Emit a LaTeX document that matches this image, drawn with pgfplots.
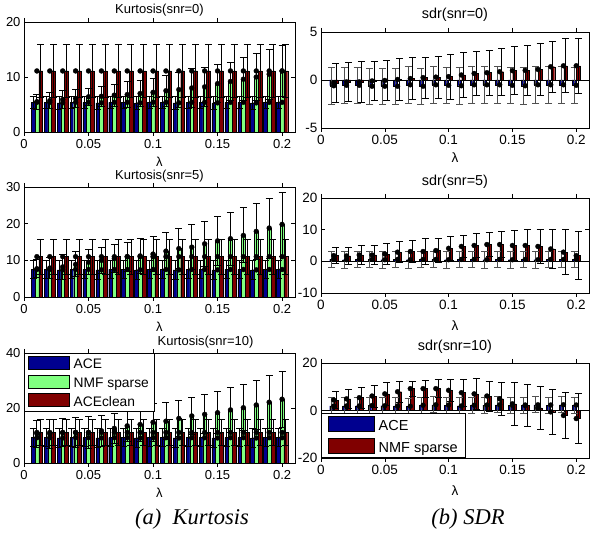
\documentclass[border=0pt]{standalone}
\usepackage{pgfplots}
\pgfplotsset{compat=1.18}
\usepackage{pgfplotstable}
\usepackage{fontspec}
\setmainfont{Liberation Sans}
\newfontfamily\capfont{Liberation Serif}
\definecolor{aceblue}{RGB}{0,0,143}
\definecolor{nmfgreen}{RGB}{128,255,128}
\definecolor{clnred}{RGB}{128,0,0}
\definecolor{errgray}{RGB}{80,80,80}

% Kurtosis tables: x, ACE (value, err), NMF sparse (value, err), ACEclean (value, err)
\pgfplotstableread{
x ace acee nmf nmfe cln clne
0.01 5.4 1.15 5.5 1.4 11.1 4.8
0.02 5.4 1.15 5.7 1.5 11.1 4.8
0.03 5.3 1.15 5.9 1.7 11.1 4.8
0.04 5.4 1.15 6.1 1.6 11.1 4.8
0.05 5.4 1.15 6.4 1.6 11.1 4.8
0.06 5.3 1.15 6.5 1.8 11.1 4.8
0.07 5.4 1.15 6.7 2.0 11.1 4.8
0.08 5.4 1.15 6.8 2.4 11.1 4.8
0.09 5.3 1.15 7.0 2.4 11.1 4.8
0.10 5.4 1.15 7.2 2.5 11.1 4.8
0.11 5.4 1.15 7.5 2.8 11.1 4.8
0.12 5.3 1.15 7.7 3.2 11.1 4.8
0.13 5.4 1.15 8.0 3.5 11.1 4.8
0.14 5.4 1.15 8.2 3.6 11.1 4.8
0.15 5.3 1.15 8.8 3.4 11.1 4.8
0.16 5.4 1.15 9.2 3.5 11.1 4.8
0.17 5.4 1.15 9.6 3.9 11.1 4.8
0.18 5.3 1.15 10.0 4.2 11.1 4.8
0.19 5.4 1.15 10.5 4.5 11.1 4.8
0.20 5.4 1.15 11.1 4.7 11.1 4.8
}\kzero

\pgfplotstableread{
x ace acee nmf nmfe cln clne
0.01 7.5 2.5 7.7 2.5 11.0 4.8
0.02 7.5 2.5 7.9 2.8 11.0 4.8
0.03 7.4 2.5 8.2 3.4 11.0 4.8
0.04 7.5 2.5 8.9 3.4 11.0 4.8
0.05 7.5 2.5 9.5 3.4 11.0 4.8
0.06 7.4 2.5 10.0 3.6 11.0 4.8
0.07 7.5 2.5 10.5 3.9 11.0 4.8
0.08 7.5 2.5 11.0 4.0 11.0 4.8
0.09 7.4 2.5 11.2 4.7 11.0 4.8
0.10 7.5 2.5 11.7 4.8 11.0 4.8
0.11 7.5 2.5 12.5 5.2 11.0 4.8
0.12 7.4 2.5 13.2 5.4 11.0 4.8
0.13 7.5 2.5 13.6 6.1 11.0 4.8
0.14 7.5 2.5 14.5 6.2 11.0 4.8
0.15 7.4 2.5 15.3 6.7 11.0 4.8
0.16 7.5 2.5 15.9 7.3 11.0 4.8
0.17 7.5 2.5 16.8 7.5 11.0 4.8
0.18 7.4 2.5 17.9 7.6 11.0 4.8
0.19 7.5 2.5 18.8 8.2 11.0 4.8
0.20 7.5 2.5 19.8 8.7 11.0 4.8
}\kfive

\pgfplotstableread{
x ace acee nmf nmfe cln clne
0.01 9.2 3.3 10.7 4.9 11.1 4.8
0.02 9.2 3.3 10.6 5.2 11.1 4.8
0.03 9.1 3.3 11.0 5.1 11.1 4.8
0.04 9.2 3.3 11.1 5.3 11.1 4.8
0.05 9.2 3.3 11.1 5.7 11.1 4.8
0.06 9.1 3.3 11.7 5.7 11.1 4.8
0.07 9.2 3.3 12.6 5.4 11.1 4.8
0.08 9.2 3.3 13.5 5.8 11.1 4.8
0.09 9.1 3.3 14.0 6.1 11.1 4.8
0.10 9.2 3.3 14.8 6.9 11.1 4.8
0.11 9.2 3.3 15.2 6.8 11.1 4.8
0.12 9.1 3.3 16.2 6.4 11.1 4.8
0.13 9.2 3.3 17.1 6.8 11.1 4.8
0.14 9.2 3.3 17.7 7.1 11.1 4.8
0.15 9.1 3.3 18.3 7.7 11.1 4.8
0.16 9.2 3.3 19.3 8.1 11.1 4.8
0.17 9.2 3.3 20.1 8.3 11.1 4.8
0.18 9.1 3.3 21.1 8.8 11.1 4.8
0.19 9.2 3.3 22.1 9.6 11.1 4.8
0.20 9.2 3.3 23.2 10.1 11.1 4.8
}\kten

% SDR tables: x, ACE (value, err), NMF sparse (value, err)
\pgfplotstableread{
x ace acee nmf nmfe
0.01 -0.60 1.9 -0.30 2.0
0.02 -0.55 1.9 -0.20 2.0
0.03 -0.55 1.9 -0.20 2.15
0.04 -0.65 1.9 -0.10 2.05
0.05 -0.65 1.9 -0.05 2.1
0.06 -0.65 1.9 0.05 2.2
0.07 -0.50 1.9 0.15 2.2
0.08 -0.65 1.9 0.25 2.15
0.09 -0.50 1.9 0.30 2.2
0.10 -0.55 1.9 0.35 2.35
0.11 -0.60 1.9 0.52 2.3
0.12 -0.50 1.9 0.68 2.25
0.13 -0.50 1.9 0.76 2.35
0.14 -0.50 1.9 0.86 2.45
0.15 -0.55 1.9 0.97 2.5
0.16 -0.60 1.9 1.00 2.6
0.17 -0.50 1.9 1.10 2.7
0.18 -0.50 1.9 1.38 2.65
0.19 -0.50 1.9 1.48 2.8
0.20 -0.55 1.9 1.48 2.9
}\szero

\pgfplotstableread{
x ace acee nmf nmfe
0.01 0.6 2.6 1.8 2.5
0.02 0.5 2.6 1.7 2.8
0.03 0.6 2.6 2.0 3.0
0.04 0.6 2.6 2.0 3.0
0.05 0.5 2.6 2.3 3.2
0.06 0.6 2.6 2.9 3.4
0.07 0.5 2.6 3.1 3.5
0.08 0.6 2.6 3.1 4.0
0.09 0.6 2.6 3.4 3.7
0.10 0.5 2.6 4.1 3.8
0.11 0.6 2.6 4.7 3.5
0.12 0.6 2.6 5.0 3.7
0.13 0.5 2.6 5.3 3.7
0.14 0.6 2.6 5.3 4.2
0.15 0.5 2.6 5.0 4.6
0.16 0.6 2.6 5.0 5.0
0.17 0.5 2.6 4.7 5.3
0.18 0.6 2.6 3.9 6.1
0.19 0.6 2.6 2.9 7.1
0.20 0.6 2.6 1.8 7.5
}\sfive

\pgfplotstableread{
x ace acee nmf nmfe
0.01 1.9 3.4 4.4 3.5
0.02 1.9 3.4 4.9 4.0
0.03 1.9 3.4 5.4 4.5
0.04 2.1 3.4 6.1 4.6
0.05 2.0 3.4 7.0 4.7
0.06 1.9 3.4 7.9 4.5
0.07 1.8 3.4 9.2 3.2
0.08 2.2 3.4 9.2 3.5
0.09 2.4 3.4 9.2 3.9
0.10 2.3 3.4 8.5 4.6
0.11 1.9 3.4 7.5 5.6
0.12 2.2 3.4 7.0 6.5
0.13 2.3 3.4 6.1 6.3
0.14 2.4 3.4 4.9 7.1
0.15 2.2 3.4 2.8 8.9
0.16 2.3 3.4 2.1 8.9
0.17 2.4 3.4 1.1 9.2
0.18 2.3 3.4 -0.6 9.5
0.19 2.4 3.4 -2.1 9.8
0.20 2.3 3.4 -3.4 10.4
}\sten

\pgfplotsset{
  panel/.style={
    scale only axis,
    xmin=0, xmax=0.21,
    xtick={0,0.05,0.1,0.15,0.2},
    xticklabels={0,0.05,0.1,0.15,0.2},
    scaled ticks=false,
    tick align=inside,
    major tick length=4pt,
    tick style={black, line width=0.5pt},
    axis line style={black, line width=0.6pt},
    /pgf/number format/assume math mode=true,
    xlabel={λ},
    xlabel style={at={(0.5,0)}, anchor=center, yshift=-30pt},
    title style={at={(0.5,1)}, anchor=center},
    ybar,
    bar width=0.0029,
  },
  kpanel/.style={panel, width=271pt, height=110pt, ymin=0,
    ticklabel style={font=\fontsize{13}{15}\selectfont},
    xlabel style={font=\fontsize{13}{15}\selectfont},
    title style={font=\fontsize{13}{15}\selectfont, yshift=6pt}},
  spanel/.style={panel, width=268pt, bar width=0.0029,
    ticklabel style={font=\fontsize{13.5}{15}\selectfont},
    xlabel style={font=\fontsize{13.5}{15}\selectfont},
    title style={font=\fontsize{14.4}{16}\selectfont, yshift=10pt},
    extra y ticks={0}, extra y tick labels={},
    extra y tick style={grid=major, major grid style={black, line width=0.6pt}, major tick length=0pt}},
  barst/.style={draw=black, line width=0.4pt},
  kleg/.style={legend image code/.code={\draw[##1] (0pt,-4.5pt) rectangle (41pt,8.5pt); \path (44pt,0pt);}},
  sleg/.style={legend image code/.code={\draw[##1] (0pt,-5pt) rectangle (46pt,10pt); \path (49pt,0pt);}},
  errpass/.style={
    forget plot, draw=none, fill=none,
    mark=*, mark size=2.5pt, mark options={draw=black, fill=black, line width=0.3pt},
    /pgfplots/error bars/y dir=both,
    /pgfplots/error bars/y explicit,
    /pgfplots/error bars/error bar style={draw=#1, line width=0.85pt},
    /pgfplots/error bars/error mark options={rotate=90, draw=#1, mark size=3.5pt, line width=0.85pt},
  },
  errpass/.default=black,
}

\begin{document}
\begin{tikzpicture}
\useasboundingbox (0,0) rectangle (590pt,534pt);

% ---------- Kurtosis snr=0 ----------
\begin{axis}[kpanel, at={(24pt,402pt)}, anchor=south west,
  ymax=20, ytick={0,10,20}, title={Kurtosis(snr=0)}]
\addplot[barst, fill=aceblue, bar shift=-0.0029] table[x=x,y=ace]{\kzero};
\addplot[barst, fill=nmfgreen, bar shift=0] table[x=x,y=nmf]{\kzero};
\addplot[barst, fill=clnred, bar shift=0.0029] table[x=x,y=cln]{\kzero};
\addplot[bar shift=-0.0029, errpass] table[x=x,y=ace,y error=acee]{\kzero};
\addplot[bar shift=0, errpass] table[x=x,y=nmf,y error=nmfe]{\kzero};
\addplot[bar shift=0.0029, errpass] table[x=x,y=cln,y error=clne]{\kzero};
\end{axis}

% ---------- Kurtosis snr=5 ----------
\begin{axis}[kpanel, at={(24pt,237pt)}, anchor=south west,
  ymax=30, ytick={0,10,20,30}, title={Kurtosis(snr=5)}, title style={yshift=-1.5pt}]
\addplot[barst, fill=aceblue, bar shift=-0.0029] table[x=x,y=ace]{\kfive};
\addplot[barst, fill=nmfgreen, bar shift=0] table[x=x,y=nmf]{\kfive};
\addplot[barst, fill=clnred, bar shift=0.0029] table[x=x,y=cln]{\kfive};
\addplot[bar shift=-0.0029, errpass] table[x=x,y=ace,y error=acee]{\kfive};
\addplot[bar shift=0, errpass] table[x=x,y=nmf,y error=nmfe]{\kfive};
\addplot[bar shift=0.0029, errpass] table[x=x,y=cln,y error=clne]{\kfive};
\end{axis}

% ---------- Kurtosis snr=10 ----------
\begin{axis}[kpanel, at={(24pt,71pt)}, anchor=south west,
  ymax=40, ytick={0,20,40}, title={Kurtosis(snr=10)}, title style={at={(0.67,1)}, yshift=-1pt},
  legend style={at={(0,1)}, anchor=north west, draw=black, line width=0.6pt, fill=white,
    font=\fontsize{13.8}{15}\selectfont, inner xsep=4pt, inner ysep=2.5pt,
    nodes={inner xsep=1pt, inner ysep=1pt}, row sep=3.5pt},
  legend cell align=left]
\addplot[barst, fill=aceblue, bar shift=-0.0029, kleg] table[x=x,y=ace]{\kten};
\addlegendentry{ACE}
\addplot[barst, fill=nmfgreen, bar shift=0, kleg] table[x=x,y=nmf]{\kten};
\addlegendentry{NMF sparse}
\addplot[barst, fill=clnred, bar shift=0.0029, kleg] table[x=x,y=cln]{\kten};
\addlegendentry{ACEclean}
\addplot[bar shift=-0.0029, errpass] table[x=x,y=ace,y error=acee]{\kten};
\addplot[bar shift=0, errpass] table[x=x,y=nmf,y error=nmfe]{\kten};
\addplot[bar shift=0.0029, errpass] table[x=x,y=cln,y error=clne]{\kten};
\end{axis}

% ---------- SDR snr=0 ----------
\begin{axis}[spanel, at={(321pt,406pt)}, anchor=south west, height=96pt,
  ymin=-5, ymax=5, ytick={-5,0,5}, title={sdr(snr=0)}, title style={yshift=1pt}]
\addplot[barst, fill=aceblue, bar shift=-0.0017] table[x=x,y=ace]{\szero};
\addplot[barst, fill=clnred, bar shift=0.0017] table[x=x,y=nmf]{\szero};
\addplot[bar shift=-0.0017, errpass=errgray] table[x=x,y=ace,y error=acee]{\szero};
\addplot[bar shift=0.0017, errpass] table[x=x,y=nmf,y error=nmfe]{\szero};
\end{axis}

% ---------- SDR snr=5 ----------
\begin{axis}[spanel, at={(321pt,241pt)}, anchor=south west, height=95pt,
  ymin=-10, ymax=20, ytick={-10,0,10,20}, title={sdr(snr=5)},
  xlabel style={yshift=-3pt}]
\addplot[barst, fill=aceblue, bar shift=-0.0017] table[x=x,y=ace]{\sfive};
\addplot[barst, fill=clnred, bar shift=0.0017] table[x=x,y=nmf]{\sfive};
\addplot[bar shift=-0.0017, errpass=errgray] table[x=x,y=ace,y error=acee]{\sfive};
\addplot[bar shift=0.0017, errpass] table[x=x,y=nmf,y error=nmfe]{\sfive};
\end{axis}

% ---------- SDR snr=10 ----------
\begin{axis}[spanel, at={(321pt,76pt)}, anchor=south west, height=95pt,
  ymin=-20, ymax=20, ytick={-20,0,20}, title={sdr(snr=10)},
  xlabel style={yshift=-3pt},
  legend style={at={(0,0)}, anchor=south west, draw=black, line width=0.6pt, fill=white,
    font=\fontsize{14.5}{16}\selectfont, inner xsep=7pt, inner ysep=2.5pt,
    nodes={inner xsep=1pt, inner ysep=1pt}, row sep=5pt},
  legend cell align=left]
\addplot[barst, fill=aceblue, bar shift=-0.0017, sleg] table[x=x,y=ace]{\sten};
\addlegendentry{ACE}
\addplot[barst, fill=clnred, bar shift=0.0017, sleg] table[x=x,y=nmf]{\sten};
\addlegendentry{NMF sparse\hspace{5pt}}
\addplot[bar shift=-0.0017, errpass=errgray] table[x=x,y=ace,y error=acee]{\sten};
\addplot[bar shift=0.0017, errpass] table[x=x,y=nmf,y error=nmfe]{\sten};
\end{axis}

% ---------- captions ----------
\node[font=\capfont\itshape\fontsize{22.5}{26}\selectfont] at (192pt,15pt) {(a)\ \ Kurtosis};
\node[font=\capfont\itshape\fontsize{22.5}{26}\selectfont] at (468pt,15pt) {(b) SDR};
\end{tikzpicture}
\end{document}
